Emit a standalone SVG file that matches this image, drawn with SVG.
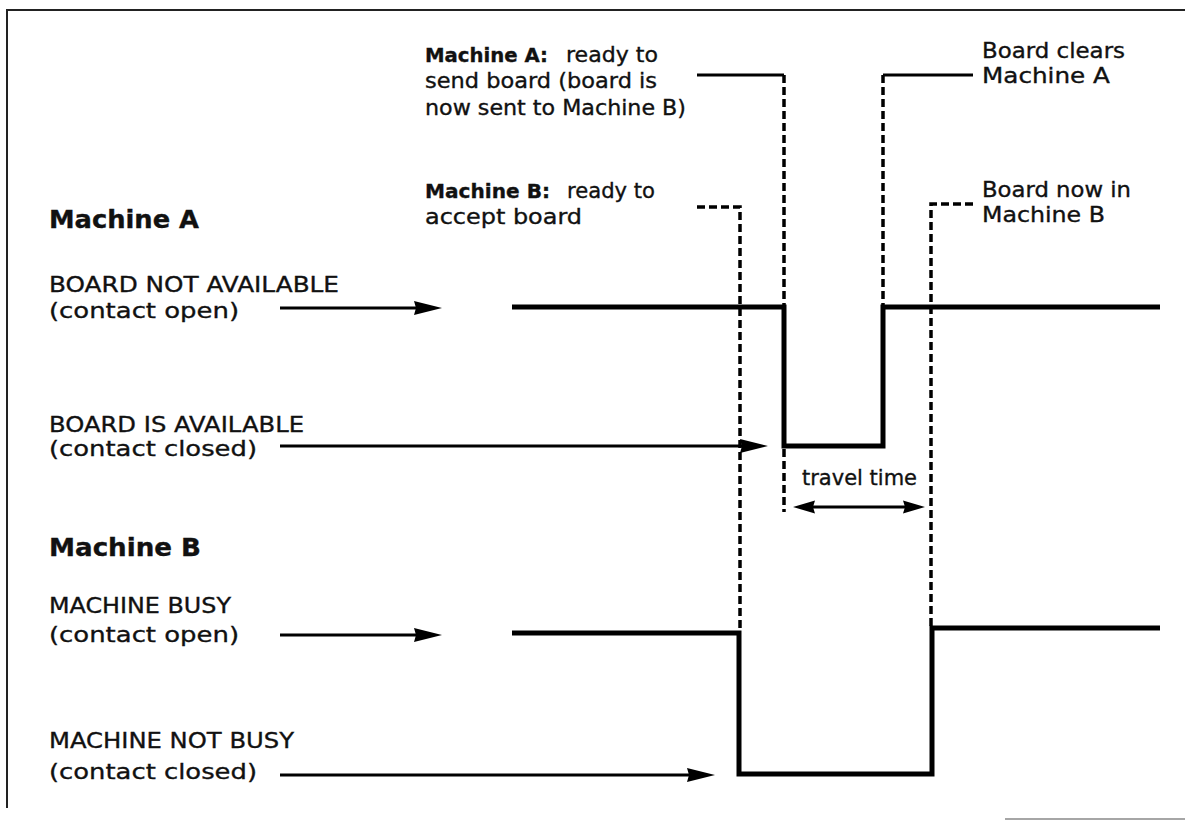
<svg xmlns="http://www.w3.org/2000/svg" width="1185" height="821" viewBox="0 0 1185 821">
<style>
  text { font-family: "DejaVu Sans", "Liberation Sans", sans-serif; fill: #111; stroke: #111; stroke-width: 0.35; }
  .lbl { font-size: 22px; }
  .ttl { font-size: 24px; font-weight: bold; }
  .ann { font-size: 21px; }
  .annb { font-size: 20px; font-weight: bold; }
  .sig { fill: none; stroke: #000; stroke-width: 5; stroke-linejoin: miter; }
  .dash { fill: none; stroke: #000; stroke-width: 3.5; stroke-dasharray: 8 4; }
  .lead { fill: none; stroke: #000; stroke-width: 3; }
  .arr { fill: none; stroke: #000; stroke-width: 3; }
  .frame { fill: none; stroke: #222; stroke-width: 2; }
</style>
<defs>
  <marker id="head" markerUnits="userSpaceOnUse" markerWidth="28" markerHeight="16" refX="18" refY="8" orient="auto">
    <path d="M0,1 L28,8 L0,15 L2,8 z" fill="#000"/>
  </marker>
  <marker id="head2" markerUnits="userSpaceOnUse" markerWidth="22" markerHeight="14" refX="14" refY="7" orient="auto-start-reverse">
    <path d="M0,0.5 L22,7 L0,13.5 L2,7 z" fill="#000"/>
  </marker>
</defs>
<rect width="1185" height="821" fill="#fff"/>

<g id="frame">
  <path class="frame" d="M7,808 L7,10 L1185,10"/>
  <path d="M1005,819 L1185,819" stroke="#888" stroke-width="1.5" fill="none"/>
</g>

<g id="machineA-title"><text class="ttl" x="49" y="228" textLength="150" lengthAdjust="spacingAndGlyphs">Machine A</text></g>
<g id="label-board-not-available">
  <text class="lbl" x="49" y="292" textLength="290" lengthAdjust="spacingAndGlyphs">BOARD NOT AVAILABLE</text>
  <text class="lbl" x="49" y="318" textLength="190" lengthAdjust="spacingAndGlyphs">(contact open)</text>
</g>
<g id="label-board-is-available">
  <text class="lbl" x="49" y="432" textLength="255" lengthAdjust="spacingAndGlyphs">BOARD IS AVAILABLE</text>
  <text class="lbl" x="49" y="456" textLength="208" lengthAdjust="spacingAndGlyphs">(contact closed)</text>
</g>
<g id="machineB-title"><text class="ttl" x="49" y="556" textLength="152" lengthAdjust="spacingAndGlyphs">Machine B</text></g>
<g id="label-machine-busy">
  <text class="lbl" x="49" y="613" textLength="182" lengthAdjust="spacingAndGlyphs">MACHINE BUSY</text>
  <text class="lbl" x="49" y="642" textLength="190" lengthAdjust="spacingAndGlyphs">(contact open)</text>
</g>
<g id="label-machine-not-busy">
  <text class="lbl" x="49" y="748" textLength="245" lengthAdjust="spacingAndGlyphs">MACHINE NOT BUSY</text>
  <text class="lbl" x="49" y="779" textLength="208" lengthAdjust="spacingAndGlyphs">(contact closed)</text>
</g>

<g id="note-a-ready">
  <text class="annb" x="425" y="62" textLength="123" lengthAdjust="spacingAndGlyphs">Machine A:</text>
  <text class="ann" x="566" y="62" textLength="92" lengthAdjust="spacingAndGlyphs">ready to</text>
  <text class="ann" x="425" y="88" textLength="232" lengthAdjust="spacingAndGlyphs">send board (board is</text>
  <text class="ann" x="425" y="115" textLength="261" lengthAdjust="spacingAndGlyphs">now sent to Machine B)</text>
</g>
<g id="note-b-ready">
  <text class="annb" x="425" y="198" textLength="125" lengthAdjust="spacingAndGlyphs">Machine B:</text>
  <text class="ann" x="567" y="198" textLength="88" lengthAdjust="spacingAndGlyphs">ready to</text>
  <text class="ann" x="425" y="224" textLength="157" lengthAdjust="spacingAndGlyphs">accept board</text>
</g>
<g id="note-board-clears">
  <text class="ann" x="982" y="58" textLength="143" lengthAdjust="spacingAndGlyphs">Board clears</text>
  <text class="ann" x="982" y="83" textLength="128" lengthAdjust="spacingAndGlyphs">Machine A</text>
</g>
<g id="note-board-in-b">
  <text class="ann" x="982" y="197" textLength="149" lengthAdjust="spacingAndGlyphs">Board now in</text>
  <text class="ann" x="982" y="222" textLength="123" lengthAdjust="spacingAndGlyphs">Machine B</text>
</g>
<g id="note-travel"><text class="ann" x="802" y="485" textLength="115" lengthAdjust="spacingAndGlyphs">travel time</text></g>

<g id="signals">
  <path class="sig" d="M512,307 L784,307 L784,446 L883,446 L883,307 L1160,307"/>
  <path class="sig" d="M512,633 L739,633 L739,774 L932,774 L932,628 L1160,628"/>
</g>

<g id="connectors">
  <line class="arr" x1="280" y1="308" x2="432" y2="308" marker-end="url(#head)"/>
  <line class="arr" x1="280" y1="446" x2="758" y2="446" marker-end="url(#head)"/>
  <line class="arr" x1="280" y1="635" x2="432" y2="635" marker-end="url(#head)"/>
  <line class="arr" x1="280" y1="775" x2="705" y2="775" marker-end="url(#head)"/>
  <line class="arr" x1="801" y1="507" x2="917" y2="507" marker-start="url(#head2)" marker-end="url(#head2)"/>

  <path class="dash" d="M697,207 L740,207 L740,631"/>
  <path class="lead" d="M697,75 L784,75"/>
  <path class="dash" d="M784,75 L784,305"/>
  <path class="dash" d="M784,449 L784,512"/>
  <path class="lead" d="M883,75 L973,75"/>
  <path class="dash" d="M883,75 L883,305"/>
  <path class="dash" d="M973,204 L931,204 L931,626"/>
</g>
</svg>
